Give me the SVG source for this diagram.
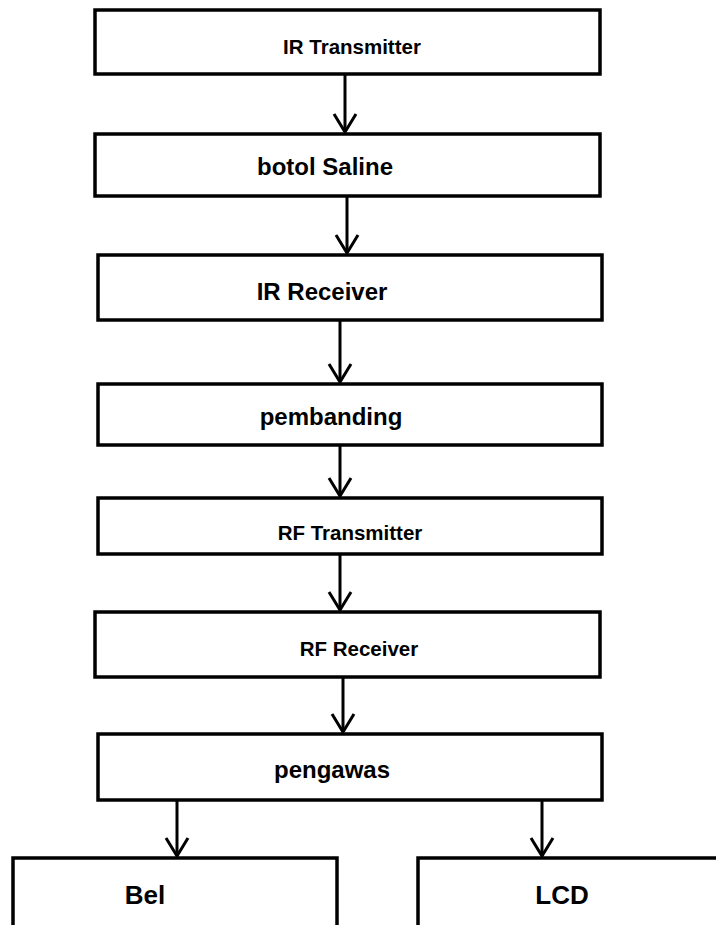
<svg xmlns="http://www.w3.org/2000/svg" width="716" height="925" viewBox="0 0 716 925">
<style>
.box{fill:#fff;stroke:#000;stroke-width:3.5}
.t{font-family:"Liberation Sans",Arial,sans-serif;font-weight:bold;fill:#000;text-anchor:middle}
.big{font-size:24px}
.sm{font-size:20.5px}
.xl{font-size:26px}
.c{stroke:#000;stroke-width:3;fill:none}
</style>
<defs>
<marker id="arr" markerUnits="userSpaceOnUse" markerWidth="26" markerHeight="22" refX="13" refY="20" orient="0" viewBox="0 0 26 22">
<path d="M2,2 L13,20 L24,2" fill="none" stroke="#000" stroke-width="3"/>
</marker>
</defs>
<rect width="716" height="925" fill="#fff"/>
<g id="connectors">
<line class="c" x1="345" y1="74" x2="345" y2="132" marker-end="url(#arr)"/>
<line class="c" x1="347" y1="197" x2="347" y2="253" marker-end="url(#arr)"/>
<line class="c" x1="340" y1="321" x2="340" y2="382" marker-end="url(#arr)"/>
<line class="c" x1="340" y1="446" x2="340" y2="496" marker-end="url(#arr)"/>
<line class="c" x1="340" y1="554" x2="340" y2="610" marker-end="url(#arr)"/>
<line class="c" x1="343" y1="678" x2="343" y2="732" marker-end="url(#arr)"/>
<line class="c" x1="177" y1="800" x2="177" y2="856" marker-end="url(#arr)"/>
<line class="c" x1="542" y1="800" x2="542" y2="856" marker-end="url(#arr)"/>
</g>
<g id="n1"><rect class="box" x="95" y="10" width="505" height="64"/><text class="t sm" x="352" y="54">IR Transmitter</text></g>
<g id="n2"><rect class="box" x="95" y="134" width="505" height="62"/><text class="t big" x="325" y="175">botol Saline</text></g>
<g id="n3"><rect class="box" x="98" y="255" width="504" height="65"/><text class="t big" x="322" y="300">IR Receiver</text></g>
<g id="n4"><rect class="box" x="98" y="384" width="504" height="61"/><text class="t big" x="331" y="425">pembanding</text></g>
<g id="n5"><rect class="box" x="98" y="498" width="504" height="56"/><text class="t sm" x="350" y="540">RF Transmitter</text></g>
<g id="n6"><rect class="box" x="95" y="612" width="505" height="65"/><text class="t sm" x="359" y="656">RF Receiver</text></g>
<g id="n7"><rect class="box" x="98" y="734" width="504" height="66"/><text class="t big" x="332" y="778">pengawas</text></g>
<g id="n8"><rect class="box" x="13" y="858" width="324" height="72"/><text class="t xl" x="145" y="904">Bel</text></g>
<g id="n9"><rect class="box" x="418" y="858" width="310" height="72"/><text class="t xl" x="562" y="904">LCD</text></g>
</svg>
